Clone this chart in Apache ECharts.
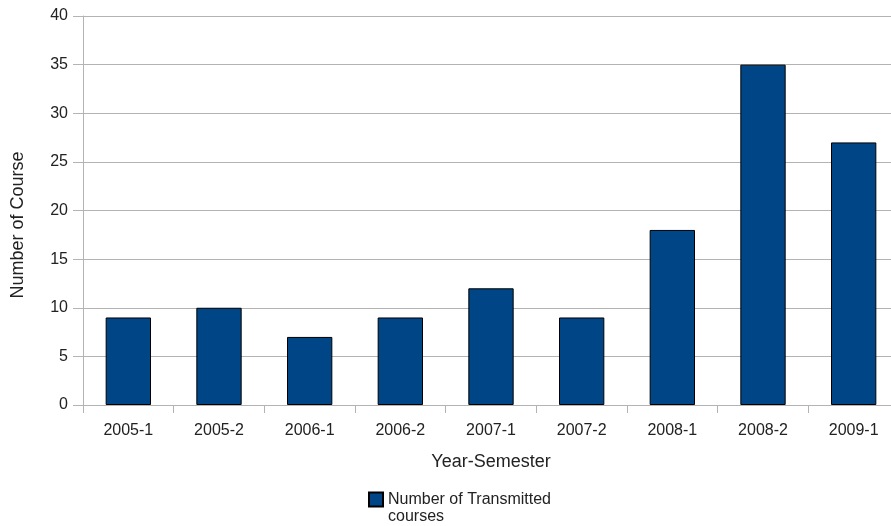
<!DOCTYPE html>
<html>
<head>
<meta charset="utf-8">
<script src="https://cdn.jsdelivr.net/npm/echarts@6/dist/echarts.min.js"></script>
<style>
  html, body { margin: 0; padding: 0; background: #fff; overflow: hidden; }
  #chart { width: 900px; height: 526px; }
</style>
</head>
<body>
<div id="chart"></div>
<script>
// Semesters and the number of courses transmitted in each
const semesters = ['2005-1', '2005-2', '2006-1', '2006-2', '2007-1', '2007-2', '2008-1', '2008-2', '2009-1'];
const transmittedCourses = [9, 10, 7, 9, 12, 9, 18, 35, 27];
const seriesName = 'Number of Transmitted\ncourses';

const chart = echarts.init(document.getElementById('chart'), null, { renderer: 'canvas' });
const font = 'Liberation Sans, Arial, sans-serif';
const textColor = '#222';
const gridColor = '#b3b3b3';

chart.setOption({
  animation: false,
  backgroundColor: '#ffffff',
  textStyle: { fontFamily: font },
  // the plot area runs a little past the visible right edge of the page
  grid: { left: 83, top: 16, bottom: 121, width: 816, containLabel: false },
  legend: {
    data: [seriesName],
    left: 368,
    top: 474,
    padding: 0,
    itemWidth: 14,
    itemHeight: 14,
    icon: 'rect',
    // a leading empty line keeps the marker level with the first text line
    formatter: name => '\n' + name,
    textStyle: { fontFamily: font, fontSize: 16, color: textColor, lineHeight: 17 }
  },
  xAxis: {
    type: 'category',
    data: semesters,
    name: 'Year-Semester',
    nameLocation: 'middle',
    nameGap: 48,
    nameTextStyle: { fontFamily: font, fontSize: 18, color: textColor },
    axisLine: { lineStyle: { color: gridColor, width: 1 } },
    axisTick: { show: true, length: 8, lineStyle: { color: gridColor } },
    axisLabel: { fontFamily: font, fontSize: 16, color: textColor, margin: 18 }
  },
  yAxis: {
    type: 'value',
    min: 0,
    max: 40,
    interval: 5,
    name: 'Number of Course',
    nameLocation: 'middle',
    nameGap: 56,
    nameTextStyle: { fontFamily: font, fontSize: 18, color: textColor, padding: [0, 29, 0, 0] },
    axisLine: { show: true, lineStyle: { color: gridColor, width: 1 } },
    axisTick: { show: true, length: 10, lineStyle: { color: gridColor } },
    axisLabel: { fontFamily: font, fontSize: 16, color: textColor, margin: 15 },
    splitLine: { show: true, lineStyle: { color: gridColor, width: 1 } }
  },
  series: [{
    name: seriesName,
    type: 'bar',
    data: transmittedCourses,
    barWidth: '50%',
    itemStyle: { color: '#004586', borderColor: '#000000', borderWidth: 1 }
  }]
});
</script>
</body>
</html>
